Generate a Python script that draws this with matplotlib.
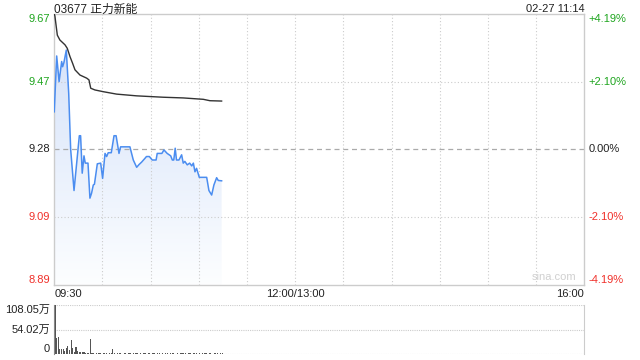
import numpy as np
import matplotlib
matplotlib.use('Agg')
import matplotlib.pyplot as plt
from matplotlib.patches import Polygon

plt.rcParams['font.family'] = ['Liberation Sans', 'Noto Sans CJK SC', 'DejaVu Sans']

title = '03677 正力新能'
stamp = '02-27 11:14'
prev_close = 9.28

# minutes since 09:30 and price
price_min = [0, 1.5, 3, 4.6, 5.2, 6, 7.5, 9, 10.2, 12.3, 15.6, 16.4, 17.4, 18.5, 19.3, 21, 22.2,
             23.2, 24.3, 25, 26.8, 28.9, 30.1, 31.6, 32.6, 33.6, 35.5, 37.2, 38.5, 40.3, 41.3, 47.1,
             49.2, 51.3, 52.8, 54.4, 56.5, 57.4, 59.2, 61, 63.4, 64.1, 67, 68.3, 70.3, 72.5, 73.5,
             74.4, 75.3, 76.1, 77.6, 79.3, 80.3, 81.3, 82.8, 84.3, 85.6, 86.6, 87.6, 88.6, 90.3,
             94.9, 96.3, 98, 99.4, 101.1, 102.1, 104.2]
price = [9.388, 9.549, 9.475, 9.533, 9.518, 9.53, 9.566, 9.44, 9.28, 9.161, 9.319, 9.319, 9.211,
         9.261, 9.24, 9.24, 9.139, 9.153, 9.177, 9.179, 9.238, 9.24, 9.196, 9.268, 9.259, 9.27,
         9.27, 9.319, 9.319, 9.268, 9.287, 9.287, 9.249, 9.228, 9.236, 9.243, 9.254, 9.259, 9.259,
         9.249, 9.249, 9.268, 9.268, 9.278, 9.268, 9.261, 9.249, 9.249, 9.283, 9.249, 9.249, 9.264,
         9.24, 9.245, 9.235, 9.24, 9.232, 9.24, 9.215, 9.225, 9.199, 9.199, 9.161, 9.148, 9.177,
         9.198, 9.19, 9.189]

avg_min = [0, 0.4, 1.9, 3.5, 6.7, 8.1, 9.8, 11.4, 12.9, 16, 20.2, 21.6, 22.7, 25.3, 30.5, 38.8,
           51.3, 67.9, 80.3, 92.8, 96.9, 104.2]
avg_price = [9.67, 9.664, 9.609, 9.595, 9.581, 9.571, 9.547, 9.528, 9.509, 9.494, 9.485, 9.48,
             9.456, 9.451, 9.446, 9.439, 9.434, 9.43, 9.428, 9.424, 9.42, 9.419]

# volume per minute, in 万
volume = [108, 35, 37, 12, 12, 11, 8, 14, 19, 10, 31, 13, 6, 15, 8, 5, 5, 4, 6, 3,
          3, 3, 33, 3, 2, 1, 2, 3, 2, 1, 2, 2, 3, 1, 2, 2, 11, 2, 1, 2,
          3, 2, 1, 2, 2, 1, 3, 2, 1, 2, 2, 3, 1, 2, 1, 2, 2, 1, 3, 2,
          1, 2, 2, 1, 2, 3, 1, 2, 1, 2, 2, 1, 2, 3, 2, 1, 2, 1, 2, 2,
          3, 2, 1, 2, 2, 1, 2, 3, 2, 1, 2, 1, 2, 2, 3, 1, 2, 2, 1, 2,
          3, 2, 1, 2, 2]
vol_max = 108.05

left_labels = ['9.67', '9.47', '9.28', '9.09', '8.89']
right_labels = ['+4.19%', '+2.10%', '0.00%', '-2.10%', '-4.19%']
vol_labels = ['108.05万', '54.02万', '0']
time_labels = ['09:30', '12:00/13:00', '16:00']

green = '#1ea51e'
red = '#f0302a'
dark = '#222222'
label_colors = [green, green, dark, red, red]
valigns = ['top', 'center', 'center', 'center', 'bottom']

fig = plt.figure(figsize=(6.4, 3.6), dpi=100)
ax = fig.add_axes([0.0848, 0.2097, 0.8281, 0.7514])
axv = fig.add_axes([0.0848, 0.0158, 0.8281, 0.137])

span = 0.39
ax.set_xlim(0, 330)
ax.set_ylim(prev_close - span, prev_close + span)
ax.set_xticks([])
ax.set_yticks([])
for s in ax.spines.values():
    s.set_color('#cccccc')
    s.set_linewidth(1)

levels = [prev_close + span * k / 2 for k in (2, 1, 0, -1, -2)]
for lv in levels[1:-1]:
    if lv == prev_close:
        ax.axhline(lv, color='#aaaaaa', lw=0.9, ls=(0, (4, 3)))
    else:
        ax.axhline(lv, color='#cccccc', lw=0.8, ls=(0, (1, 2)))
for t in range(30, 330, 30):
    ax.axvline(t, color='#cccccc', lw=0.8, ls=(0, (1, 2)))

for lv, lab, c, va in zip(levels, left_labels, label_colors, valigns):
    ax.text(-0.008, lv, lab, transform=ax.get_yaxis_transform(), ha='right', va=va,
            color=c, fontsize=8)
for lv, lab, c, va in zip(levels, right_labels, label_colors, valigns):
    ax.text(1.008, lv, lab, transform=ax.get_yaxis_transform(), ha='left', va=va,
            color=c, fontsize=8)

# gradient fill under price line
pts = list(zip(price_min, price)) + [(price_min[-1], prev_close - span), (0, prev_close - span)]
poly = Polygon(pts, closed=True, facecolor='none', edgecolor='none')
ax.add_patch(poly)
grad = np.linspace(0, 1, 256).reshape(-1, 1)
top_c = np.array([0.84, 0.89, 0.98])
bot_c = np.array([0.99, 0.995, 1.0])
img = top_c * (1 - grad[..., None]) + bot_c * grad[..., None]
im = ax.imshow(img, extent=[0, price_min[-1], prev_close - span, max(price)], aspect='auto',
               origin='upper', zorder=1)
im.set_clip_path(poly)

ax.plot(price_min, price, color='#4b8df0', lw=1.1, zorder=3)
ax.plot(avg_min, avg_price, color='#333333', lw=1.0, zorder=3)

ax.text(0, 1.006, title, transform=ax.transAxes, ha='left', va='baseline', fontsize=8.5,
        color=dark)
ax.text(1, 1.006, stamp, transform=ax.transAxes, ha='right', va='baseline', fontsize=8,
        color=dark)
ax.text(0.985, 0.01, 'sina.com', transform=ax.transAxes, ha='right', va='bottom', fontsize=8,
        color='#d0d0d0')

for t, lab, ha in zip([0, 150, 330], time_labels, ['left', 'center', 'right']):
    ax.text(t, -0.015, lab, transform=ax.get_xaxis_transform(), ha=ha, va='top', fontsize=8,
            color=dark)

# volume panel
axv.set_xlim(0, 330)
axv.set_ylim(0, vol_max)
axv.set_xticks([])
axv.set_yticks([])
for k, s in axv.spines.items():
    s.set_visible(k in ('left', 'right'))
    s.set_color('#cccccc')
axv.spines['left'].set_color('#888888')
for lv in [vol_max, vol_max / 2, 0]:
    axv.axhline(lv, color='#cccccc', lw=0.8, ls=(0, (1, 1)))
axv.bar(np.arange(len(volume)) + 0.5, volume, width=0.7, color='#555555', zorder=3)
for lv, lab, va in zip([vol_max, vol_max / 2, 0], vol_labels, ['top', 'center', 'bottom']):
    axv.text(-0.008, lv, lab, transform=axv.get_yaxis_transform(), ha='right', va=va,
             fontsize=8, color=dark)

fig.savefig('out.png', dpi=100)
